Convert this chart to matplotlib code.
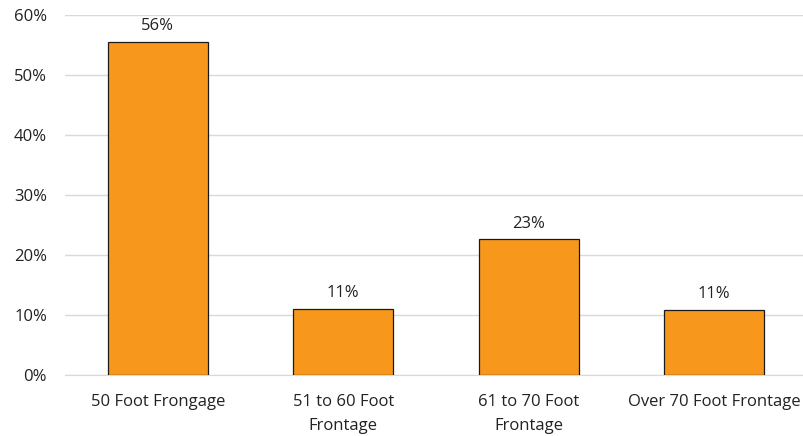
import matplotlib
matplotlib.use("Agg")
import matplotlib.pyplot as plt
import numpy as np

categories = ["50 Foot Frongage", "51 to 60 Foot\nFrontage", "61 to 70 Foot\nFrontage", "Over 70 Foot Frontage"]
shares = [0.555, 0.110, 0.226, 0.108]
yticks = [0.0, 0.1, 0.2, 0.3, 0.4, 0.5, 0.6]

plt.rcParams["font.family"] = ["Open Sans", "DejaVu Sans"]
fs = 12

fig = plt.figure(figsize=(8.04, 4.36), dpi=100)
ax = fig.add_axes([65 / 804, 1 - 375 / 436, 742 / 804, 360 / 436])

x = np.arange(len(categories))
bars = ax.bar(x, shares, width=0.54, color="#F7981D", edgecolor="#1a1a1a", linewidth=0.9, zorder=3)
for b, v in zip(bars, shares):
    ax.text(b.get_x() + b.get_width() / 2, v + 0.013, f"{v:.0%}", ha="center", va="bottom",
            fontsize=fs, color="#222222")

ax.set_xlim(-0.5, len(categories) - 0.5)
ax.set_ylim(0, 0.6)
ax.set_yticks(yticks)
ax.set_yticklabels([f"{t:.0%}" for t in yticks], fontsize=fs, color="#222222")
ax.set_xticks(x)
ax.set_xticklabels(categories, fontsize=fs, color="#222222", linespacing=1.6)
ax.tick_params(axis="both", length=0)
ax.tick_params(axis="x", pad=14)
ax.tick_params(axis="y", pad=13)
ax.grid(axis="y", color="#D9D9D9", linewidth=1, zorder=0)
for s in ["top", "right", "left"]:
    ax.spines[s].set_visible(False)
ax.spines["bottom"].set_color("#D9D9D9")

fig.savefig("out.png", dpi=100)
